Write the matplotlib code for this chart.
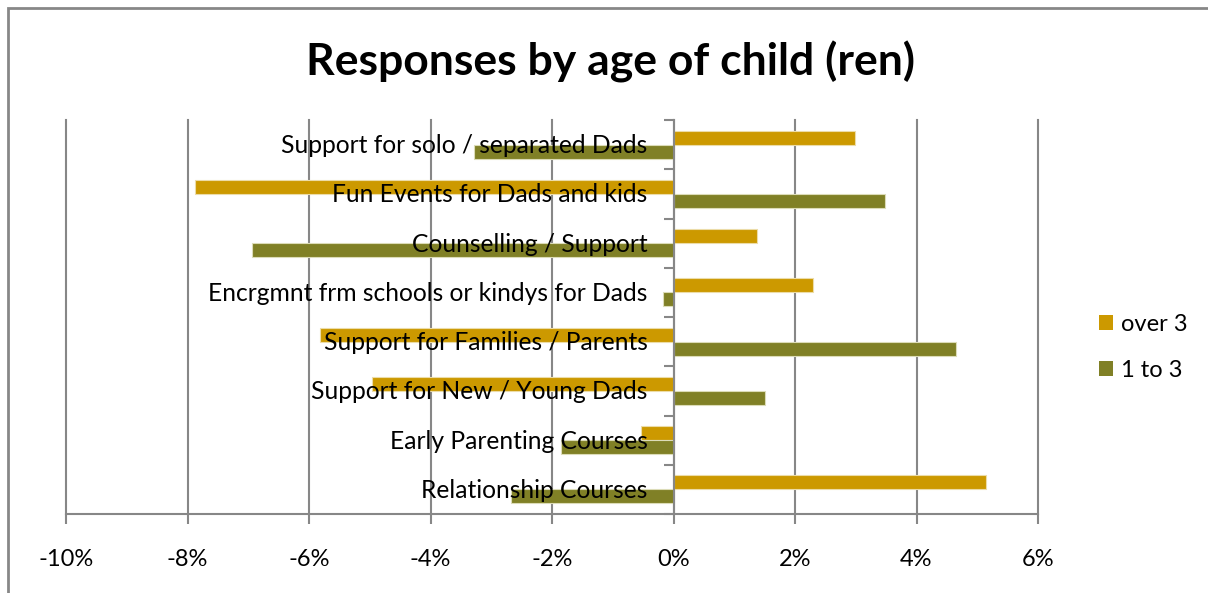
import numpy as np
import matplotlib
matplotlib.use('Agg')
import matplotlib.pyplot as plt
import matplotlib.transforms as mtransforms
from matplotlib.patches import Patch, Rectangle

categories = ['Support for solo / separated Dads',
              'Fun Events for Dads and kids',
              'Counselling / Support',
              'Encrgmnt frm schools or kindys for Dads',
              'Support for Families / Parents',
              'Support for New / Young Dads',
              'Early Parenting Courses',
              'Relationship Courses']
over_3 = [2.98, -7.87, 1.38, 2.29, -5.82, -4.96, -0.54, 5.14]
one_to_3 = [-3.28, 3.48, -6.94, -0.18, 4.65, 1.50, -1.86, -2.67]
xticks = [-10, -8, -6, -4, -2, 0, 2, 4, 6]

gold = '#cc9900'
olive = '#808026'
grey = '#878787'

plt.rcParams['font.family'] = ['Lato', 'DejaVu Sans']

fig = plt.figure(figsize=(12.08, 5.93), dpi=100)
ax = fig.add_axes([66 / 1208, 79 / 593, 972 / 1208, 394 / 593])

y = np.arange(len(categories))
h = 0.285
ax.barh(y - h / 2, over_3, height=h, color=gold, edgecolor='#ecdca8', linewidth=0.8, zorder=2)
ax.barh(y + h / 2, one_to_3, height=h, color=olive, edgecolor='#dcdcb8', linewidth=0.8, zorder=2)

ax.set_xlim(-10, 6)
ax.set_ylim(len(categories) - 0.5, -0.5)
ax.set_xticks(xticks)
ax.set_xticklabels(['%d%%' % t for t in xticks], fontsize=17)
ax.tick_params(axis='x', length=7, width=1.5, color=grey, pad=18)
ax.grid(axis='x', color=grey, linewidth=1.5, zorder=0)
for gl in ax.get_xgridlines():
    gl.set_clip_on(False)

# category axis sits at zero with boundary ticks
ax.spines['left'].set_position(('data', 0))
ax.spines['left'].set_color(grey)
ax.spines['left'].set_linewidth(1.5)
ax.spines['left'].set_zorder(3)
ax.spines['bottom'].set_color(grey)
ax.spines['bottom'].set_linewidth(1.5)
ax.spines['top'].set_visible(False)
ax.spines['right'].set_visible(False)
ax.set_yticks(np.arange(len(categories) + 1) - 0.5)
ax.set_yticklabels([])
ax.tick_params(axis='y', length=7, width=1.5, color=grey)

# category names drawn over the bars, right-aligned to the zero axis
shift = mtransforms.offset_copy(ax.transData, fig=fig, x=-26, y=-1, units='dots')
for yi, name in zip(y, categories):
    ax.text(0, yi, name, transform=shift, ha='right', va='center', fontsize=17.7, zorder=5)

fig.text(0.505, 0.895, 'Responses by age of child (ren)', ha='center', va='center',
         fontsize=32, fontweight='bold')

handles = [Patch(facecolor=gold), Patch(facecolor=olive)]
fig.legend(handles, ['over 3', '1 to 3'], loc='center left', bbox_to_anchor=(0.892, 0.414),
           frameon=False, fontsize=17, handlelength=0.6, handleheight=0.6,
           handletextpad=0.35, labelspacing=1.05)

# outer chart border
fig.patches.append(Rectangle((8 / 1208, -0.1), 1.2, 1.1 - 8 / 593, transform=fig.transFigure,
                             fill=False, edgecolor=grey, linewidth=2))

fig.savefig('out.png', dpi=100)
